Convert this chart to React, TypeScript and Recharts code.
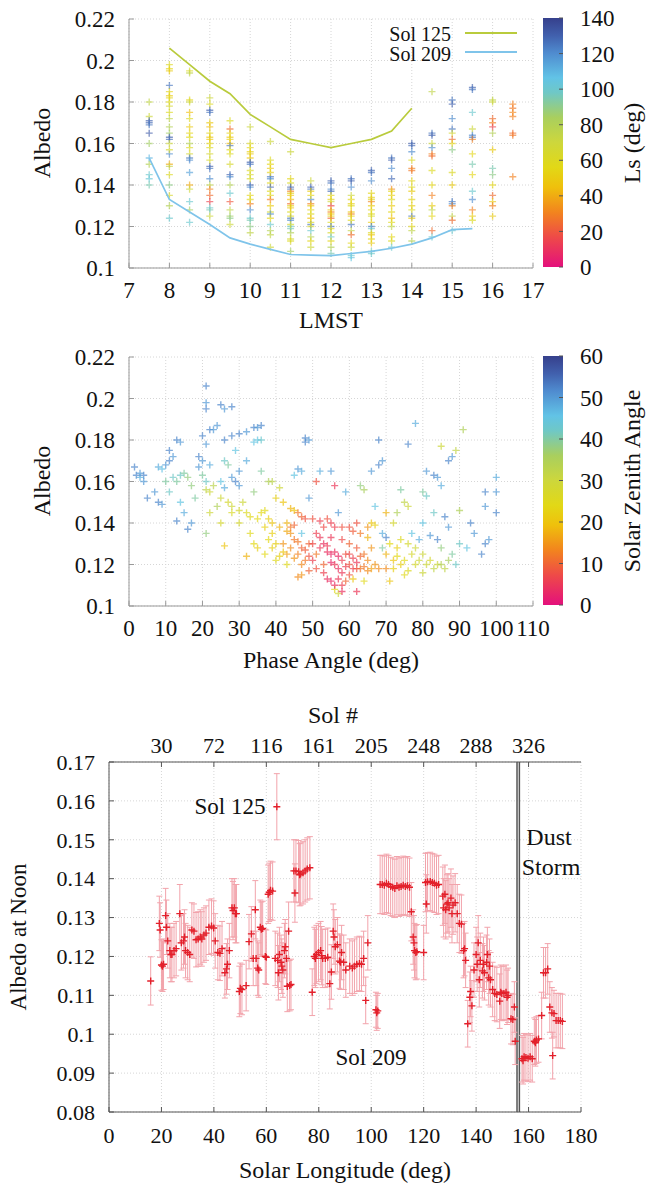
import React from 'react'
import {
  Bar,
  BarChart,
  CartesianGrid,
  ErrorBar,
  ReferenceLine,
  Scatter,
  ScatterChart,
  XAxis,
  YAxis,
} from 'recharts'

const FONT = "'Liberation Serif', 'DejaVu Serif', serif"

// ---------- panel 1: albedo vs LMST, coloured by Ls ----------
const lmstTicks = [7, 8, 9, 10, 11, 12, 13, 14, 15, 16, 17]
const albedoTicks = [0.1, 0.12, 0.14, 0.16, 0.18, 0.2, 0.22]
const lsColorTicks = [0, 20, 40, 60, 80, 100, 120, 140]
const lmstHours = [7.5, 8, 8.5, 9, 9.5, 10, 10.5, 11, 11.5, 12, 12.5, 13, 13.5, 14, 14.5, 15, 15.5, 16, 16.5]
// one list per hour column: [albedo, Ls]
const lmstColumns: [number, number][][] = [
  [[0.18, 75], [0.173, 70], [0.171, 130], [0.17, 128], [0.169, 125], [0.165, 132], [0.16, 85], [0.153, 110], [0.15, 80], [0.145, 100], [0.143, 102], [0.14, 95]],
  [[0.198, 60], [0.196, 55], [0.195, 50], [0.188, 125], [0.183, 50], [0.182, 55], [0.18, 58], [0.178, 65], [0.172, 75], [0.168, 80], [0.165, 85], [0.163, 130], [0.162, 128], [0.16, 70], [0.155, 120], [0.15, 40], [0.149, 75], [0.145, 60], [0.14, 90], [0.135, 65], [0.13, 80], [0.124, 100], [0.185, 55], [0.175, 60], [0.157, 65]],
  [[0.195, 60], [0.194, 75], [0.181, 55], [0.18, 70], [0.175, 45], [0.172, 60], [0.168, 50], [0.165, 55], [0.16, 80], [0.155, 65], [0.153, 125], [0.152, 120], [0.146, 115], [0.14, 40], [0.138, 70], [0.132, 100], [0.128, 85], [0.122, 100], [0.163, 58], [0.158, 60]],
  [[0.182, 70], [0.179, 60], [0.176, 130], [0.175, 125], [0.17, 50], [0.168, 45], [0.165, 55], [0.163, 50], [0.162, 48], [0.158, 60], [0.155, 65], [0.149, 130], [0.148, 125], [0.143, 120], [0.14, 75], [0.138, 30], [0.135, 25], [0.132, 15], [0.129, 100], [0.128, 95], [0.125, 70], [0.16, 55], [0.152, 62]],
  [[0.171, 60], [0.167, 25], [0.165, 55], [0.163, 50], [0.16, 45], [0.159, 125], [0.155, 60], [0.15, 65], [0.145, 130], [0.144, 120], [0.14, 80], [0.136, 100], [0.132, 20], [0.128, 75], [0.125, 85], [0.124, 90], [0.121, 70], [0.162, 52], [0.157, 58]],
  [[0.168, 70], [0.16, 60], [0.158, 55], [0.155, 50], [0.153, 48], [0.151, 130], [0.15, 125], [0.147, 60], [0.145, 65], [0.14, 130], [0.139, 120], [0.135, 55], [0.131, 30], [0.128, 120], [0.124, 100], [0.123, 95], [0.12, 90], [0.117, 75], [0.156, 52], [0.143, 62], [0.133, 58]],
  [[0.161, 70], [0.152, 60], [0.15, 55], [0.148, 50], [0.144, 125], [0.143, 120], [0.141, 55], [0.139, 130], [0.135, 60], [0.133, 30], [0.13, 50], [0.127, 65], [0.126, 120], [0.121, 100], [0.118, 80], [0.116, 75], [0.11, 70], [0.146, 52], [0.137, 58], [0.124, 55]],
  [[0.156, 70], [0.143, 55], [0.141, 60], [0.139, 130], [0.138, 125], [0.137, 30], [0.135, 50], [0.133, 45], [0.131, 25], [0.13, 55], [0.127, 60], [0.124, 125], [0.123, 120], [0.12, 100], [0.119, 95], [0.117, 80], [0.114, 65], [0.113, 60], [0.108, 85], [0.136, 52], [0.129, 48], [0.125, 58], [0.121, 62]],
  [[0.142, 70], [0.139, 130], [0.138, 125], [0.137, 50], [0.133, 120], [0.131, 30], [0.128, 55], [0.126, 60], [0.124, 45], [0.121, 125], [0.12, 65], [0.118, 100], [0.115, 80], [0.113, 55], [0.11, 70], [0.135, 55], [0.13, 50], [0.122, 58]],
  [[0.142, 130], [0.141, 125], [0.138, 120], [0.137, 128], [0.135, 55], [0.132, 70], [0.13, 15], [0.128, 50], [0.127, 30], [0.125, 55], [0.124, 25], [0.122, 60], [0.12, 125], [0.117, 65], [0.115, 100], [0.113, 55], [0.11, 80], [0.107, 95], [0.133, 52], [0.126, 48], [0.119, 58]],
  [[0.143, 125], [0.142, 130], [0.139, 120], [0.135, 70], [0.133, 55], [0.13, 60], [0.127, 50], [0.126, 30], [0.125, 55], [0.121, 125], [0.118, 75], [0.116, 25], [0.112, 55], [0.11, 70], [0.106, 100], [0.105, 105], [0.131, 52], [0.123, 58]],
  [[0.147, 130], [0.146, 125], [0.142, 120], [0.136, 55], [0.133, 60], [0.132, 30], [0.13, 50], [0.128, 55], [0.125, 65], [0.122, 50], [0.12, 125], [0.119, 100], [0.117, 60], [0.114, 55], [0.112, 50], [0.108, 95], [0.107, 100], [0.134, 52], [0.126, 58], [0.116, 48]],
  [[0.153, 125], [0.152, 130], [0.148, 120], [0.143, 128], [0.138, 30], [0.137, 55], [0.133, 60], [0.13, 50], [0.127, 55], [0.124, 45], [0.12, 75], [0.115, 55], [0.113, 60], [0.11, 100], [0.135, 52], [0.122, 58]],
  [[0.16, 130], [0.159, 128], [0.156, 120], [0.152, 60], [0.148, 30], [0.147, 28], [0.142, 55], [0.137, 50], [0.133, 55], [0.128, 60], [0.125, 125], [0.124, 50], [0.12, 55], [0.118, 75], [0.113, 80], [0.139, 58], [0.13, 52]],
  [[0.185, 75], [0.165, 125], [0.164, 130], [0.16, 70], [0.158, 120], [0.155, 30], [0.154, 25], [0.147, 60], [0.14, 55], [0.135, 30], [0.13, 50], [0.128, 75], [0.125, 55], [0.118, 25], [0.115, 100]],
  [[0.181, 125], [0.179, 130], [0.172, 120], [0.167, 125], [0.165, 65], [0.162, 25], [0.16, 55], [0.157, 90], [0.146, 60], [0.14, 50], [0.132, 125], [0.131, 120], [0.13, 30], [0.125, 75], [0.123, 25], [0.118, 100]],
  [[0.187, 130], [0.186, 125], [0.175, 100], [0.167, 70], [0.164, 120], [0.163, 125], [0.162, 30], [0.155, 55], [0.15, 95], [0.145, 55], [0.137, 100], [0.133, 120], [0.128, 30], [0.125, 50], [0.123, 60]],
  [[0.181, 75], [0.18, 70], [0.172, 25], [0.17, 30], [0.168, 15], [0.165, 80], [0.157, 50], [0.148, 95], [0.145, 90], [0.14, 55], [0.135, 25], [0.132, 50], [0.13, 30], [0.125, 50]],
  [[0.179, 30], [0.177, 28], [0.175, 32], [0.173, 30], [0.165, 25], [0.164, 28], [0.144, 30]],
]
const sol125Hours = [8, 8.5, 9, 9.5, 10, 10.5, 11, 11.5, 12, 12.5, 13, 13.5, 14]
const sol125Albedo = [0.206, 0.198, 0.19, 0.184, 0.174, 0.168, 0.162, 0.16, 0.158, 0.16, 0.162, 0.166, 0.177]
const sol209Hours = [7.5, 8, 8.5, 9, 9.5, 10, 10.5, 11, 11.5, 12, 12.5, 13, 13.5, 14, 14.5, 15, 15.5]
const sol209Albedo = [0.153, 0.133, 0.127, 0.121, 0.1145, 0.1115, 0.109, 0.1065, 0.1062, 0.106, 0.107, 0.108, 0.1095, 0.1115, 0.1145, 0.1185, 0.119]

// ---------- panel 2: albedo vs phase angle, coloured by SZA ----------
const phaseTicks = [0, 10, 20, 30, 40, 50, 60, 70, 80, 90, 100, 110]
const szaColorTicks = [0, 10, 20, 30, 40, 50, 60]
// [phase, albedo, sza]
const phaseLow: [number, number, number][] = [
  [1.5, 0.167, 52], [2, 0.163, 52], [3, 0.164, 50], [4, 0.163, 52], [3, 0.162, 48], [4, 0.16, 50], [5, 0.152, 52], [7, 0.155, 50],
  [8, 0.167, 48], [9, 0.166, 46], [8, 0.15, 52], [9, 0.149, 50], [10, 0.168, 50], [11, 0.17, 52], [12, 0.172, 50], [13, 0.18, 52],
  [14, 0.179, 50], [11, 0.175, 52], [12, 0.162, 42], [13, 0.16, 40], [14, 0.163, 42], [15, 0.164, 40], [16, 0.162, 38], [10, 0.16, 40],
  [11, 0.155, 42], [13, 0.141, 52], [15, 0.145, 48], [16, 0.137, 52], [17, 0.14, 50], [14, 0.15, 45], [17, 0.158, 38], [18, 0.152, 40],
]
const phase20s: [number, number, number][] = [
  [21, 0.206, 52], [21, 0.198, 50], [21, 0.195, 52], [20, 0.182, 52], [21, 0.178, 50], [22, 0.185, 52], [23, 0.185, 50], [19, 0.172, 52],
  [20, 0.17, 50], [22, 0.168, 48], [19, 0.167, 50], [20, 0.163, 40], [21, 0.16, 42], [21, 0.156, 32], [22, 0.155, 30], [23, 0.158, 33],
  [21, 0.135, 38], [25, 0.197, 52], [26, 0.195, 50], [28, 0.196, 52], [24, 0.187, 50], [26, 0.18, 52], [28, 0.182, 52], [26, 0.17, 42],
  [27, 0.168, 40], [25, 0.16, 45], [26, 0.157, 48], [28, 0.162, 50], [29, 0.16, 52], [25, 0.152, 30], [27, 0.15, 28], [28, 0.148, 30],
  [28, 0.145, 27], [26, 0.129, 20], [22, 0.145, 30], [24, 0.148, 35], [25, 0.14, 28], [29, 0.175, 45],
]
const phase30s: [number, number, number][] = [
  [30, 0.183, 52], [32, 0.184, 50], [34, 0.186, 52], [35, 0.186, 50], [36, 0.187, 52], [35, 0.18, 45], [36, 0.18, 43], [34, 0.179, 45],
  [30, 0.165, 50], [32, 0.17, 48], [30, 0.158, 50], [30, 0.146, 28], [32, 0.145, 26], [33, 0.143, 25], [35, 0.142, 24], [37, 0.138, 22],
  [38, 0.16, 35], [39, 0.16, 33], [36, 0.165, 40], [30, 0.14, 28], [33, 0.135, 25], [35, 0.128, 22], [32, 0.124, 18], [38, 0.132, 24],
  [31, 0.15, 30], [34, 0.155, 38], [37, 0.146, 25], [39, 0.135, 22], [36, 0.145, 24], [38, 0.142, 22], [39, 0.14, 20], [39, 0.128, 22],
  [37, 0.125, 24], [34, 0.13, 24],
]
const phase40s: [number, number, number][] = [
  [40, 0.152, 22], [42, 0.15, 20], [44, 0.147, 18], [45, 0.146, 20], [46, 0.145, 12], [47, 0.143, 10], [48, 0.142, 8], [40, 0.13, 22],
  [42, 0.126, 20], [40, 0.122, 25], [42, 0.13, 15], [44, 0.128, 14], [46, 0.125, 13], [48, 0.122, 12], [46, 0.114, 14], [47, 0.115, 15],
  [48, 0.181, 52], [48, 0.179, 52], [49, 0.18, 50], [46, 0.166, 50], [47, 0.165, 48], [45, 0.163, 45], [41, 0.157, 30], [43, 0.14, 18],
  [44, 0.135, 15], [45, 0.132, 12], [49, 0.13, 10], [43, 0.12, 25], [47, 0.135, 45], [49, 0.152, 50], [41, 0.138, 18], [43, 0.136, 17],
  [41, 0.124, 22], [44, 0.138, 12], [45, 0.139, 10], [46, 0.131, 12], [47, 0.128, 10], [48, 0.127, 9], [49, 0.124, 8], [49, 0.117, 10],
  [47, 0.12, 14], [45, 0.123, 15], [43, 0.125, 16],
]
const phase50s: [number, number, number][] = [
  [50, 0.142, 8], [52, 0.141, 6], [54, 0.142, 8], [50, 0.13, 7], [52, 0.128, 5], [54, 0.126, 4], [55, 0.125, 3], [56, 0.12, 5],
  [57, 0.118, 4], [58, 0.122, 6], [55, 0.112, 3], [54, 0.113, 4], [57, 0.106, 30], [58, 0.107, 4], [56, 0.108, 25], [53, 0.138, 7],
  [56, 0.138, 6], [58, 0.138, 8], [51, 0.16, 8], [52, 0.165, 48], [55, 0.133, 5], [59, 0.125, 8], [53, 0.12, 10], [51, 0.125, 12],
  [57, 0.145, 50], [56, 0.158, 5], [59, 0.155, 48], [55, 0.165, 50], [50, 0.122, 6], [51, 0.135, 6], [52, 0.133, 5], [53, 0.13, 4],
  [54, 0.129, 5], [55, 0.121, 3], [56, 0.126, 4], [57, 0.124, 3], [58, 0.116, 5], [59, 0.119, 6], [59, 0.112, 10], [57, 0.113, 5],
  [53, 0.116, 6], [51, 0.118, 8], [58, 0.132, 7], [55, 0.14, 6], [56, 0.11, 4], [58, 0.11, 6],
]
const phase60s: [number, number, number][] = [
  [60, 0.12, 8], [61, 0.118, 6], [62, 0.121, 5], [62, 0.107, 5], [62, 0.14, 8], [63, 0.118, 12], [65, 0.117, 14], [67, 0.12, 15],
  [68, 0.118, 14], [63, 0.158, 38], [64, 0.156, 36], [66, 0.165, 50], [68, 0.168, 52], [69, 0.17, 50], [68, 0.18, 52], [66, 0.14, 20],
  [67, 0.139, 22], [69, 0.135, 48], [64, 0.125, 12], [66, 0.128, 15], [60, 0.13, 10], [65, 0.133, 18], [61, 0.113, 20], [64, 0.112, 25],
  [69, 0.128, 40], [67, 0.148, 45], [60, 0.125, 7], [61, 0.123, 6], [62, 0.118, 8], [63, 0.124, 10], [60, 0.115, 8], [64, 0.119, 12],
  [65, 0.122, 14], [66, 0.118, 16], [62, 0.128, 9], [60, 0.138, 8], [61, 0.136, 9], [63, 0.135, 12], [65, 0.138, 15],
]
const phase70s: [number, number, number][] = [
  [70, 0.118, 14], [70, 0.125, 18], [72, 0.122, 20], [74, 0.12, 22], [70, 0.133, 52], [72, 0.14, 28], [74, 0.132, 26], [76, 0.13, 28],
  [78, 0.128, 30], [76, 0.178, 52], [78, 0.188, 48], [75, 0.15, 32], [76, 0.148, 30], [73, 0.145, 35], [77, 0.135, 45], [79, 0.132, 48],
  [71, 0.112, 20], [75, 0.115, 25], [73, 0.128, 22], [78, 0.12, 28], [70, 0.145, 18], [74, 0.156, 40], [71, 0.13, 24], [73, 0.124, 24],
  [75, 0.122, 25], [77, 0.125, 28], [79, 0.122, 30], [72, 0.118, 22], [76, 0.117, 26],
]
const phaseHigh: [number, number, number][] = [
  [80, 0.155, 40], [81, 0.153, 42], [80, 0.125, 30], [82, 0.122, 28], [84, 0.12, 30], [86, 0.118, 32], [83, 0.163, 52], [84, 0.162, 50],
  [85, 0.158, 48], [87, 0.17, 52], [88, 0.172, 50], [89, 0.175, 32], [85, 0.177, 30], [91, 0.185, 35], [82, 0.134, 50], [84, 0.132, 52],
  [86, 0.143, 52], [87, 0.138, 50], [88, 0.125, 40], [90, 0.13, 42], [92, 0.128, 45], [97, 0.155, 52], [97, 0.148, 50], [97, 0.13, 52],
  [98, 0.132, 50], [100, 0.162, 48], [100, 0.155, 50], [100, 0.145, 52], [93, 0.14, 52], [94, 0.135, 50], [96, 0.125, 52], [90, 0.146, 35],
  [81, 0.165, 50], [80, 0.14, 45], [85, 0.128, 38], [83, 0.145, 42], [89, 0.12, 42], [81, 0.12, 30], [83, 0.118, 32], [85, 0.12, 34],
  [87, 0.122, 36], [80, 0.116, 30],
]

// ---------- panel 3: noon albedo vs solar longitude ----------
const lsTicks = [0, 20, 40, 60, 80, 100, 120, 140, 160, 180]
const noonTicks = [0.08, 0.09, 0.1, 0.11, 0.12, 0.13, 0.14, 0.15, 0.16, 0.17]
const solTickLs = [20, 40, 60, 80, 100, 120, 140, 160]
const solTickLabels = ['30', '72', '116', '161', '205', '248', '288', '326']
const dustStormLs = [155.6, 156.5]
// [Ls, albedo, error]
const noonEarly: [number, number, number][] = [
  [15.9, 0.1137, 0.0062], [19.2, 0.1285, 0.007], [19.5, 0.1268, 0.007], [20, 0.1178, 0.0065], [20.4, 0.1175, 0.0065], [20.8, 0.118, 0.0065],
  [21.6, 0.1305, 0.007], [21.9, 0.1275, 0.007], [22.4, 0.124, 0.007], [23.2, 0.1215, 0.007], [23.6, 0.1205, 0.007], [24, 0.1205, 0.007],
  [24.8, 0.1215, 0.007], [25.6, 0.122, 0.007], [27, 0.131, 0.0075], [27.6, 0.1235, 0.007], [28.4, 0.124, 0.007], [28.8, 0.125, 0.007],
  [29.2, 0.1215, 0.007], [30, 0.121, 0.007], [30.8, 0.1205, 0.007], [31.6, 0.1268, 0.007], [32.4, 0.1265, 0.007], [33.2, 0.1243, 0.007],
  [34, 0.1245, 0.007], [34.8, 0.125, 0.007], [35.4, 0.1245, 0.007], [36.2, 0.1255, 0.007], [37, 0.126, 0.007], [38.1, 0.1275, 0.007],
  [39.1, 0.1278, 0.007], [39.9, 0.1273, 0.007], [40.5, 0.124, 0.007], [41.5, 0.121, 0.007], [42.3, 0.1208, 0.007], [43.1, 0.122, 0.007],
  [44.2, 0.1158, 0.0065], [44.8, 0.1168, 0.0065], [45.2, 0.118, 0.0065], [45.9, 0.1215, 0.007], [46.9, 0.1325, 0.0075], [47.3, 0.1318, 0.0075],
  [47.8, 0.1325, 0.0075], [48.2, 0.131, 0.0075], [48.6, 0.131, 0.0075], [49.7, 0.111, 0.0065], [50.1, 0.1118, 0.0065],
]
const noonSpring: [number, number, number][] = [
  [50.7, 0.1115, 0.0065], [52.3, 0.1125, 0.0065], [53.4, 0.1238, 0.007], [54.3, 0.1258, 0.007], [55, 0.1195, 0.007], [55.8, 0.132, 0.0075],
  [56.1, 0.1195, 0.007], [56.7, 0.117, 0.007], [57.1, 0.1165, 0.007], [57.7, 0.1275, 0.007], [58.1, 0.127, 0.007], [58.6, 0.1272, 0.007],
  [59.6, 0.12, 0.007], [60, 0.1198, 0.007], [60.7, 0.136, 0.0075], [61.1, 0.1365, 0.0075], [61.6, 0.137, 0.0075], [62.4, 0.1368, 0.0075],
  [63.4, 0.1195, 0.007], [64, 0.1585, 0.0085], [64.3, 0.119, 0.007], [64.6, 0.1158, 0.007], [65, 0.1205, 0.007], [65.6, 0.1185, 0.007],
  [65.9, 0.1175, 0.007], [66.3, 0.1165, 0.007], [66.9, 0.1215, 0.007], [67.2, 0.1225, 0.007], [67.7, 0.1195, 0.007], [68, 0.1123, 0.0065],
  [68.5, 0.1265, 0.0075], [68.9, 0.1125, 0.0065], [69.4, 0.1128, 0.0065], [70.5, 0.142, 0.008], [70.9, 0.1363, 0.0075], [71.3, 0.142, 0.008],
  [72.3, 0.1418, 0.008], [72.7, 0.141, 0.008], [73.1, 0.1412, 0.008], [74, 0.1415, 0.008], [74.8, 0.142, 0.008], [75.6, 0.1425, 0.008],
  [76.6, 0.1428, 0.008],
]
const noonMid: [number, number, number][] = [
  [77.5, 0.1108, 0.006], [78.3, 0.12, 0.0075], [78.7, 0.1195, 0.0075], [79.1, 0.1205, 0.0075], [79.9, 0.121, 0.0075], [80.7, 0.1215, 0.0075],
  [81.1, 0.1202, 0.0075], [81.5, 0.1195, 0.0075], [82.5, 0.1195, 0.0075], [83.4, 0.1198, 0.0075], [84.2, 0.113, 0.0065], [84.8, 0.116, 0.007],
  [85.5, 0.1265, 0.007], [85.8, 0.125, 0.007], [86.3, 0.1225, 0.007], [87.1, 0.123, 0.007], [87.9, 0.1188, 0.007], [88.3, 0.1185, 0.007],
  [88.7, 0.121, 0.007], [89.5, 0.1185, 0.007], [90.3, 0.1165, 0.007], [91.8, 0.1175, 0.007], [92.8, 0.117, 0.007], [93.6, 0.1175, 0.007],
  [94.5, 0.118, 0.007], [95.5, 0.1182, 0.007], [96.3, 0.118, 0.007], [97.1, 0.1195, 0.007], [97.9, 0.1087, 0.006], [98.7, 0.1235, 0.007],
  [101.8, 0.1063, 0.0045], [102.1, 0.1055, 0.0045], [102.5, 0.106, 0.0045],
]
const noonSummer: [number, number, number][] = [
  [103.4, 0.1385, 0.0075], [104.2, 0.1385, 0.0075], [105, 0.1383, 0.0075], [105.8, 0.1388, 0.0075], [106.6, 0.1385, 0.0075], [107.4, 0.138, 0.0075],
  [108.2, 0.1378, 0.0075], [109, 0.1375, 0.0075], [109.8, 0.1382, 0.0075], [110.6, 0.1378, 0.0075], [111.4, 0.138, 0.0075], [112.2, 0.1383, 0.0075],
  [113, 0.138, 0.0075], [113.8, 0.1382, 0.0075], [114.6, 0.1378, 0.0075], [115.3, 0.1315, 0.0075], [116, 0.125, 0.007], [116.3, 0.1235, 0.007],
  [116.5, 0.1215, 0.007], [117, 0.121, 0.007], [117.4, 0.1212, 0.007], [120, 0.121, 0.007], [120.7, 0.139, 0.0075], [121, 0.1335, 0.0075],
  [121.5, 0.1392, 0.0075], [122.5, 0.1393, 0.0075], [123.3, 0.139, 0.0075], [124.1, 0.1388, 0.0075], [124.9, 0.1383, 0.0075], [125.7, 0.1385, 0.0075],
]
const noonLate: [number, number, number][] = [
  [127.3, 0.1355, 0.0075], [127.6, 0.1325, 0.0075], [128.1, 0.136, 0.0075], [128.4, 0.132, 0.0075], [128.9, 0.1335, 0.0075], [129.3, 0.1338, 0.0075],
  [129.7, 0.1325, 0.0075], [130.4, 0.135, 0.0075], [130.8, 0.131, 0.0075], [131.2, 0.1332, 0.0075], [132, 0.1338, 0.0075], [132.8, 0.131, 0.0075],
  [133.6, 0.1285, 0.0075], [134.4, 0.1283, 0.0075], [135.2, 0.1215, 0.007], [135.6, 0.122, 0.007], [136, 0.119, 0.007], [136.8, 0.1027, 0.006],
  [137.6, 0.1095, 0.0065], [137.9, 0.111, 0.0065], [138.4, 0.1073, 0.0065], [139.2, 0.1165, 0.007], [140, 0.1205, 0.007], [140.4, 0.118, 0.007],
  [140.8, 0.1235, 0.007], [141.2, 0.114, 0.007], [141.6, 0.119, 0.007], [142.4, 0.1163, 0.007], [142.8, 0.118, 0.007], [143.2, 0.1158, 0.007],
  [144, 0.1185, 0.007], [144.3, 0.1205, 0.007], [144.8, 0.1145, 0.007], [145.1, 0.1175, 0.007], [145.5, 0.114, 0.007], [146.3, 0.1115, 0.007],
  [147.1, 0.1105, 0.007], [147.9, 0.1102, 0.007], [149, 0.1085, 0.007], [149.4, 0.1108, 0.007], [149.8, 0.1105, 0.007], [150.6, 0.1105, 0.007],
  [151.4, 0.1108, 0.007], [151.8, 0.1095, 0.007], [152.2, 0.11, 0.007], [153.3, 0.104, 0.0065], [154, 0.1038, 0.0065], [154.6, 0.107, 0.0065],
  [154.9, 0.0982, 0.006],
]
const noonStorm: [number, number, number][] = [
  [157.5, 0.0937, 0.006], [157.9, 0.0932, 0.006], [158.3, 0.0942, 0.006], [159, 0.094, 0.006], [159.8, 0.0938, 0.006], [160.6, 0.0942, 0.006],
  [161.4, 0.0937, 0.006], [162.2, 0.0982, 0.006], [162.6, 0.0978, 0.006], [163, 0.0985, 0.006], [163.8, 0.0988, 0.006], [165, 0.1048, 0.006],
  [165.7, 0.1158, 0.0065], [166.5, 0.1158, 0.0065], [167.3, 0.1168, 0.0065], [168.1, 0.107, 0.0065], [168.9, 0.1055, 0.0065], [169.2, 0.0945, 0.006],
  [169.7, 0.1053, 0.006], [170.5, 0.1035, 0.007], [171.3, 0.1035, 0.007], [172.1, 0.1035, 0.007], [172.9, 0.1033, 0.007],
]

// colour map shared by both colour bars (fraction of range -> colour)
const paletteStops: [number, string][] = [
  [0, '#e4107c'],
  [0.12, '#ee4a48'],
  [0.22, '#f2841e'],
  [0.32, '#efc00c'],
  [0.4, '#e2d816'],
  [0.5, '#cdd73c'],
  [0.6, '#a9cf5e'],
  [0.7, '#6fc8c6'],
  [0.76, '#62c3e6'],
  [0.86, '#4f8bcf'],
  [0.93, '#4160ad'],
  [1, '#36408c'],
]

const hexRgb = (h: string) => [1, 3, 5].map((i) => parseInt(h.slice(i, i + 2), 16))

function colorAt(t: number) {
  const f = Math.max(0, Math.min(1, t))
  for (let i = 1; i < paletteStops.length; i++) {
    const [o1, c1] = paletteStops[i]
    const [o0, c0] = paletteStops[i - 1]
    if (f <= o1) {
      const k = (f - o0) / (o1 - o0)
      const a = hexRgb(c0)
      const b = hexRgb(c1)
      const m = a.map((v, j) => Math.round(v + (b[j] - v) * k))
      return `rgb(${m[0]},${m[1]},${m[2]})`
    }
  }
  return paletteStops[paletteStops.length - 1][1]
}

const panel1Points = lmstHours.flatMap((h, i) =>
  lmstColumns[i].map(([a, ls]) => ({ x: h, y: a, c: colorAt(ls / 140) }))
)
const sol125Line = sol125Hours.map((h, i) => ({ x: h, y: sol125Albedo[i] }))
const sol209Line = sol209Hours.map((h, i) => ({ x: h, y: sol209Albedo[i] }))
const panel2Points = [...phaseLow, ...phase20s, ...phase30s, ...phase40s, ...phase50s, ...phase60s, ...phase70s, ...phaseHigh].map(
  ([p, a, z]) => ({ x: p, y: a, c: colorAt(z / 60) })
)
const panel3Points = [...noonEarly, ...noonSpring, ...noonMid, ...noonSummer, ...noonLate, ...noonStorm].map(([ls, a, e]) => ({
  x: ls,
  y: a,
  err: e,
}))

const tickStyle = (size: number) => ({ fill: '#111', fontSize: size, fontFamily: FONT })
const noShape = () => <g />

const plusShape = (size: number, width: number, opacity: number, fixed?: string) => (props: any) => {
  const { cx, cy, payload } = props
  if (cx == null || cy == null) return <g />
  return (
    <path
      d={`M${cx - size},${cy}H${cx + size}M${cx},${cy - size}V${cy + size}`}
      stroke={fixed ?? payload.c}
      strokeWidth={width}
      opacity={opacity}
      fill="none"
    />
  )
}

const Text = ({ x, y, children, size = 24, rotate = false, anchor = 'middle' }: any) => (
  <div
    style={{
      position: 'absolute',
      left: x,
      top: y,
      transform: `translate(${anchor === 'end' ? '-100%' : '-50%'},-50%)${rotate ? ' rotate(-90deg)' : ''}`,
      fontFamily: FONT,
      fontSize: size,
      lineHeight: 1,
      whiteSpace: 'nowrap',
      color: '#111',
    }}
  >
    {children}
  </div>
)

function ColorBar({ id, max, ticks }: { id: string; max: number; ticks: number[] }) {
  return (
    <BarChart
      width={100}
      height={330}
      data={[{ k: 'bar', v: max }]}
      margin={{ top: 18, right: 30, bottom: 63, left: 0 }}
      barCategoryGap={0}
    >
      <defs>
        <linearGradient id={id} x1="0" y1="1" x2="0" y2="0">
          {paletteStops.map(([o, c]) => (
            <stop key={o} offset={`${o * 100}%`} stopColor={c} />
          ))}
        </linearGradient>
      </defs>
      <XAxis dataKey="k" hide />
      <YAxis
        orientation="right"
        type="number"
        domain={[0, max]}
        ticks={ticks}
        interval={0}
        allowDataOverflow
        width={50}
        axisLine={false}
        tickSize={-4}
        tickMargin={21}
        stroke="#555"
        tick={tickStyle(23)}
      />
      <Bar dataKey="v" fill={`url(#${id})`} isAnimationActive={false} />
    </BarChart>
  )
}

// gnuplot-style framed scatter: inward ticks on all four sides
function FramedScatter({
  xDomain,
  xTicks,
  children,
}: {
  xDomain: [number, number]
  xTicks: number[]
  children: React.ReactNode
}) {
  return (
    <ScatterChart width={570} height={330} margin={{ top: 19, right: 37, bottom: 0, left: 59 }}>
      <CartesianGrid stroke="#d6d6d6" strokeDasharray="1 2" />
      <XAxis
        type="number"
        dataKey="x"
        domain={xDomain}
        ticks={xTicks}
        interval={0}
        allowDataOverflow
        height={62}
        tickSize={-5}
        tickMargin={19}
        stroke="#999"
        tick={tickStyle(23)}
      />
      <XAxis
        xAxisId="top"
        orientation="top"
        type="number"
        dataKey="x"
        domain={xDomain}
        ticks={xTicks}
        interval={0}
        allowDataOverflow
        height={0}
        tick={false}
        tickSize={-5}
        stroke="#999"
      />
      <YAxis
        type="number"
        dataKey="y"
        domain={[0.1, 0.22]}
        ticks={albedoTicks}
        interval={0}
        allowDataOverflow
        width={70}
        tickSize={-5}
        tickMargin={19}
        stroke="#999"
        tick={tickStyle(23)}
      />
      <YAxis
        yAxisId="right"
        orientation="right"
        type="number"
        dataKey="y"
        domain={[0.1, 0.22]}
        ticks={albedoTicks}
        interval={0}
        allowDataOverflow
        width={0}
        tick={false}
        tickSize={-5}
        stroke="#999"
      />
      {children}
    </ScatterChart>
  )
}

export default function App() {
  return (
    <div style={{ position: 'absolute', left: 0, top: 0, width: 646, height: 1185, background: '#fff', overflow: 'hidden' }}>
      {/* panel 1 */}
      <div style={{ position: 'absolute', left: 0, top: 0 }}>
        <FramedScatter xDomain={[7, 17]} xTicks={lmstTicks}>
          <Scatter xAxisId="top" yAxisId="right" data={panel1Points} shape={noShape} isAnimationActive={false} />
          <Scatter data={panel1Points} shape={plusShape(3.5, 1.4, 0.65)} isAnimationActive={false} />
          <Scatter data={sol125Line} line={{ stroke: '#b9cb3c', strokeWidth: 1.7 }} shape={noShape} isAnimationActive={false} />
          <Scatter data={sol209Line} line={{ stroke: '#7fc4ea', strokeWidth: 1.7 }} shape={noShape} isAnimationActive={false} />
        </FramedScatter>
      </div>
      <div style={{ position: 'absolute', left: 543, top: 0 }}>
        <ColorBar id="lsGrad" max={140} ticks={lsColorTicks} />
      </div>
      <Text x={451} y={34} size={20} anchor="end">Sol 125</Text>
      <Text x={451} y={54} size={20} anchor="end">Sol 209</Text>
      <div style={{ position: 'absolute', left: 465, top: 32, width: 52, height: 2, background: '#b9cb3c' }} />
      <div style={{ position: 'absolute', left: 465, top: 51, width: 52, height: 2, background: '#7fc4ea' }} />
      <Text x={42} y={143} rotate>Albedo</Text>
      <Text x={331} y={320}>LMST</Text>
      <Text x={632} y={143} rotate>Ls (deg)</Text>

      {/* panel 2 */}
      <div style={{ position: 'absolute', left: 0, top: 338 }}>
        <FramedScatter xDomain={[0, 110]} xTicks={phaseTicks}>
          <Scatter xAxisId="top" yAxisId="right" data={panel2Points} shape={noShape} isAnimationActive={false} />
          <Scatter data={panel2Points} shape={plusShape(3.5, 1.4, 0.7)} isAnimationActive={false} />
        </FramedScatter>
      </div>
      <div style={{ position: 'absolute', left: 543, top: 338 }}>
        <ColorBar id="szaGrad" max={60} ticks={szaColorTicks} />
      </div>
      <Text x={42} y={481} rotate>Albedo</Text>
      <Text x={331} y={660}>Phase Angle (deg)</Text>
      <Text x={632} y={481} rotate>Solar Zenith Angle</Text>

      {/* panel 3 */}
      <div style={{ position: 'absolute', left: 0, top: 690 }}>
        <ScatterChart width={646} height={470} margin={{ top: 22, right: 65, bottom: 0, left: 39 }}>
          <CartesianGrid stroke="#d6d6d6" strokeDasharray="1 2" />
          <XAxis
            type="number"
            dataKey="x"
            domain={[0, 180]}
            ticks={lsTicks}
            interval={0}
            allowDataOverflow
            height={48}
            tickSize={-5}
            tickMargin={20}
            stroke="#555"
            tick={tickStyle(22)}
          />
          <XAxis
            xAxisId="top"
            orientation="top"
            type="number"
            dataKey="x"
            domain={[0, 180]}
            ticks={solTickLs}
            interval={0}
            allowDataOverflow
            height={50}
            tickSize={-5}
            tickMargin={14}
            stroke="#555"
            tick={tickStyle(22)}
            tickFormatter={(v: number) => solTickLabels[solTickLs.indexOf(v)] ?? ''}
          />
          <YAxis
            type="number"
            dataKey="y"
            domain={[0.08, 0.17]}
            ticks={noonTicks}
            interval={0}
            allowDataOverflow
            width={70}
            tickSize={-5}
            tickMargin={19}
            stroke="#555"
            tick={tickStyle(22)}
          />
          <YAxis
            yAxisId="right"
            orientation="right"
            type="number"
            dataKey="y"
            domain={[0.08, 0.17]}
            ticks={noonTicks}
            interval={0}
            allowDataOverflow
            width={0}
            tick={false}
            tickSize={-5}
            stroke="#555"
          />
          {dustStormLs.map((ls) => (
            <ReferenceLine key={ls} x={ls} stroke="#555" strokeWidth={1.5} />
          ))}
          <Scatter xAxisId="top" yAxisId="right" data={panel3Points} shape={noShape} isAnimationActive={false} />
          <Scatter data={panel3Points} shape={plusShape(3.5, 1.4, 1, '#e3202b')} isAnimationActive={false}>
            <ErrorBar dataKey="err" direction="y" width={3} stroke="#f2a3ab" strokeWidth={1} />
          </Scatter>
        </ScatterChart>
      </div>
      <Text x={333} y={715}>Sol #</Text>
      <Text x={18} y={937} rotate size={23}>Albedo at Noon</Text>
      <Text x={345} y={1170}>Solar Longitude (deg)</Text>
      <Text x={230} y={806} size={23}>Sol 125</Text>
      <Text x={371} y={1057} size={23}>Sol 209</Text>
      <Text x={549} y={837}>Dust</Text>
      <Text x={551} y={867}>Storm</Text>
    </div>
  )
}
